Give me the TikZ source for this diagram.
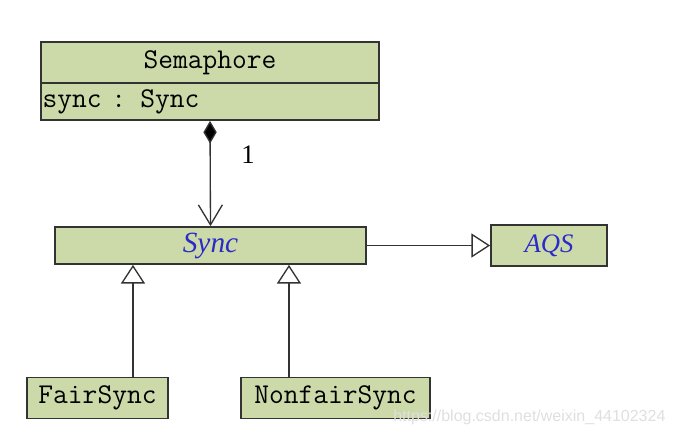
\documentclass[tikz,border=0pt]{standalone}
\usepackage{fontspec}
\setmonofont{Latin Modern Mono}
\newfontfamily\umlserif{Liberation Serif}
\newfontfamily\marksans{Liberation Sans}
\usetikzlibrary{arrows.meta}

\definecolor{umlfill}{HTML}{CCDAA9}
\definecolor{umlline}{HTML}{333333}
\definecolor{umlblue}{HTML}{2B2BC8}

\begin{document}
\begin{tikzpicture}[
  x=0.75pt, y=-0.75pt,
  cls/.style={draw=umlline, line width=1.3pt, fill=umlfill, inner sep=0pt,
              font=\fontsize{21.5}{25}\selectfont\ttfamily},
  abst/.style={cls, font=\fontsize{22}{26}\selectfont\umlserif\itshape,
               text=umlblue},
  conn/.style={draw=umlline, line width=1pt},
  comp/.style={conn, {Diamond[length=17pt,width=10pt,fill=black]}-{Straight Barb[length=15pt,width=18pt]}},
  gen/.style={conn, -{Triangle[open, fill=white, length=14pt, width=18pt]}},
]
\useasboundingbox (0,0) rectangle (675,437);

% ---- Semaphore ----
\node[cls, minimum width=253.5pt, minimum height=30.75pt] (semname)
  at (210,62.5) {Semaphore};
\node[cls, minimum width=253.5pt, minimum height=27.75pt,
      text width=251pt, align=left] (semattr) at (210,101.5) {sync : Sync};

% ---- Sync and AQS ----
\node[abst, minimum width=233.25pt, minimum height=27.75pt] (sync)
  at (210.5,245.5) {Sync};
\node[abst, minimum width=87pt, minimum height=30.75pt,
      font=\fontsize{20}{24}\selectfont\umlserif\itshape] (aqs)
  at (549,245.5) {AQS};

% ---- Subclasses ----
\node[cls, minimum width=105.75pt, minimum height=30.75pt] (fair)
  at (97.5,398) {FairSync};
\node[cls, minimum width=141.75pt, minimum height=30.75pt] (nonfair)
  at (335.5,398) {NonfairSync};

% ---- Connectors ----
\draw[comp] (semattr.south) -- (sync.north);
\node[font=\fontsize{20}{24}\selectfont\umlserif] (mult) at (248,155) {1};
\draw[gen] (sync.east) -- (aqs.west);
\draw[gen] ([xshift=26.6pt]fair.north) -- ([xshift=26.6pt]fair.north |- sync.south);
\draw[gen] ([xshift=-34.9pt]nonfair.north) -- ([xshift=-34.9pt]nonfair.north |- sync.south);

% ---- Watermark ----
\node[font=\fontsize{12}{14}\selectfont\marksans, text=gray!25, anchor=west,
      inner sep=0pt] (mark) at (393,417) {https://blog.csdn.net/weixin\_44102324};
\end{tikzpicture}
\end{document}
